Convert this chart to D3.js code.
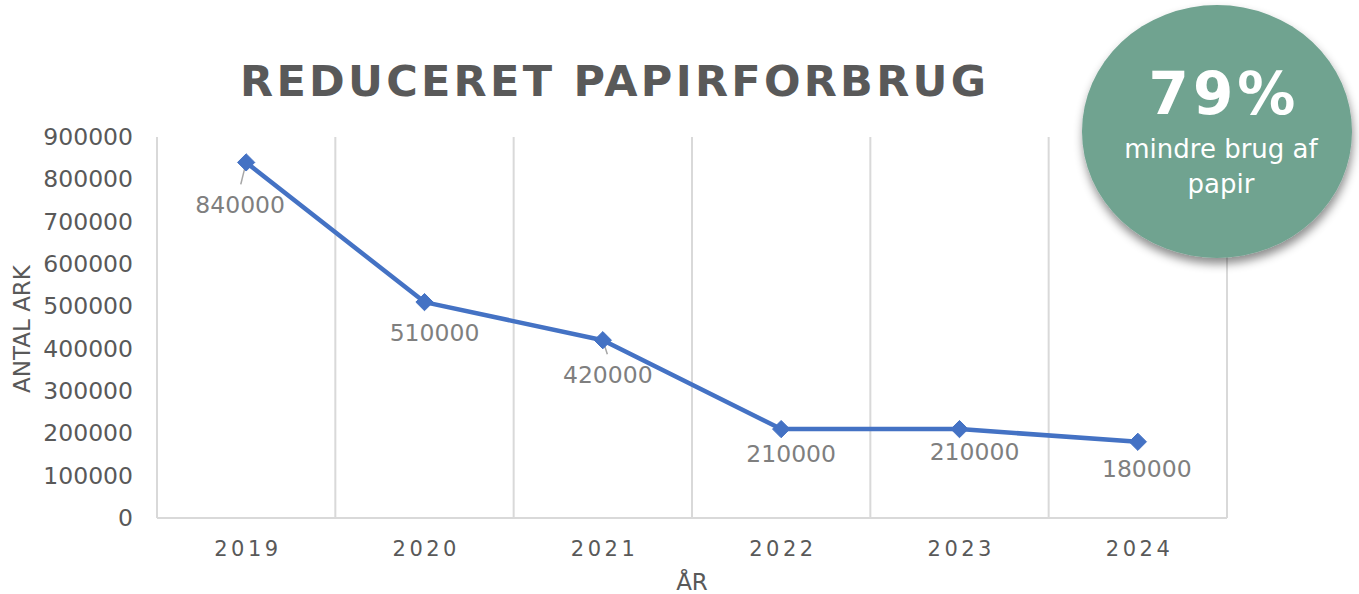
<!DOCTYPE html>
<html>
<head>
<meta charset="utf-8">
<script src="https://cdn.jsdelivr.net/npm/d3@7"></script>
<style>
  html, body { margin: 0; padding: 0; background: #fff; }
  svg { display: block; font-family: "DejaVu Sans", Verdana, sans-serif; }
</style>
</head>
<body>
<svg id="chart" width="1359" height="594"></svg>
<script>
const years = ["2019", "2020", "2021", "2022", "2023", "2024"];
const sheets = [840000, 510000, 420000, 210000, 210000, 180000];
const yTicks = [0, 100000, 200000, 300000, 400000, 500000, 600000, 700000, 800000, 900000];
const titleText = "REDUCERET PAPIRFORBRUG";
const yTitle = "ANTAL ARK";
const xTitle = "ÅR";
const badgeBig = "79%";
const badgeLines = ["mindre brug af", "papir"];
// label placement nudges (dx, dy from marker) and leader line flags
const labelDx = [-6, 10, 5, 10, 15, 9];
const labelDy = [51, 39, 43, 33, 31, 35];
const leader = [true, false, true, false, false, false];

(function () {
const svg = d3.select("#chart");
const pLeft = 157, pRight = 1227, pTop = 137, pBottom = 518;

const x = d3.scaleBand().domain(years).range([pLeft, pRight]).padding(0);
const y = d3.scaleLinear().domain([0, 900000]).range([pBottom, pTop]);

// vertical gridlines at band edges
const edges = years.map(d => x(d)).concat([pRight]);
svg.append("g").selectAll("line").data(edges).join("line")
  .attr("x1", d => d).attr("x2", d => d)
  .attr("y1", pTop).attr("y2", pBottom)
  .attr("stroke", "#d9d9d9").attr("stroke-width", 2);
// bottom axis line
svg.append("line").attr("x1", pLeft).attr("x2", pRight).attr("y1", pBottom).attr("y2", pBottom)
  .attr("stroke", "#d9d9d9").attr("stroke-width", 2);

// y axis labels
const yAxis = d3.axisLeft(y).tickValues(yTicks).tickFormat(d3.format("d")).tickSize(0).tickPadding(24);
const ya = svg.append("g").attr("transform", `translate(${pLeft},0)`).call(yAxis);
ya.select(".domain").remove();
ya.selectAll("text").attr("fill", "#595959").style("font-size", "23.5px")
  .style("font-family", "'DejaVu Sans', Verdana, sans-serif");

// x axis labels
const xAxis = d3.axisBottom(x).tickSize(0).tickPadding(0);
const xa = svg.append("g").attr("transform", `translate(0,${pBottom})`).call(xAxis);
xa.select(".domain").remove();
xa.selectAll("text").attr("fill", "#595959").attr("dy", null).attr("y", 38)
  .style("font-size", "21px").style("letter-spacing", "3.5px")
  .attr("dx", "1.75px")
  .style("font-family", "'DejaVu Sans', Verdana, sans-serif");

// axis titles
svg.append("text").attr("x", 692).attr("y", 590).attr("text-anchor", "middle")
  .attr("fill", "#595959").style("font-size", "23px").text(xTitle);
svg.append("text").attr("transform", "translate(30,329) rotate(-90)").attr("text-anchor", "middle")
  .attr("fill", "#595959").style("font-size", "23px").text(yTitle);

// title
const t = svg.append("text").attr("x", 613).attr("y", 96).attr("text-anchor", "middle")
  .attr("fill", "#595959").style("font-size", "43px").style("font-weight", "bold").text(titleText);
{
  const w = t.node().getComputedTextLength();
  const target = 746;
  const s = (target - w) / (titleText.length - 1);
  t.style("letter-spacing", s + "px").attr("dx", (s / 2) + "px");
}

// line
const line = d3.line().x((d, i) => x(years[i]) + x.bandwidth() / 2).y(d => y(d));
svg.append("path").datum(sheets).attr("d", line)
  .attr("fill", "none").attr("stroke", "#4472c4").attr("stroke-width", 4.5).attr("stroke-linejoin", "round");

// leader lines
svg.append("g").selectAll("line").data(sheets.map((v, i) => ({v, i})).filter(d => leader[d.i])).join("line")
  .attr("x1", d => x(years[d.i]) + x.bandwidth() / 2)
  .attr("y1", d => y(d.v))
  .attr("x2", d => x(years[d.i]) + x.bandwidth() / 2 + labelDx[d.i] * 0.9)
  .attr("y2", d => y(d.v) + labelDy[d.i] - 29)
  .attr("stroke", "#a6a6a6").attr("stroke-width", 1.5);

// markers
svg.append("g").selectAll("path").data(sheets).join("path")
  .attr("d", d3.symbol().type(d3.symbolDiamond2).size(190))
  .attr("transform", (d, i) => `translate(${x(years[i]) + x.bandwidth() / 2},${y(d)})`)
  .attr("fill", "#4472c4").attr("stroke", "#4472c4").attr("stroke-width", 1);

// data labels
svg.append("g").selectAll("text").data(sheets).join("text")
  .attr("x", (d, i) => x(years[i]) + x.bandwidth() / 2 + labelDx[i])
  .attr("y", (d, i) => y(d) + labelDy[i])
  .attr("text-anchor", "middle").attr("fill", "#7f7f7f").style("font-size", "23.5px")
  .text(d => d3.format("d")(d));

// badge
const defs = svg.append("defs");
const f = defs.append("filter").attr("id", "shadow").attr("x", "-20%").attr("y", "-20%").attr("width", "140%").attr("height", "140%");
f.append("feDropShadow").attr("dx", 1).attr("dy", 6).attr("stdDeviation", 5)
  .attr("flood-color", "#000").attr("flood-opacity", 0.45);
svg.append("ellipse").attr("cx", 1217).attr("cy", 131.5).attr("rx", 135).attr("ry", 126.5)
  .attr("fill", "#70a390").attr("filter", "url(#shadow)");
svg.append("text").attr("x", 1222).attr("y", 114).attr("text-anchor", "middle")
  .attr("fill", "#fff").style("font-size", "58px").style("font-weight", "bold")
  .style("letter-spacing", "4px").attr("dx", "2px").text(badgeBig);
svg.append("g").selectAll("text").data(badgeLines).join("text")
  .attr("x", 1221).attr("y", (d, i) => 158 + i * 35).attr("text-anchor", "middle")
  .attr("fill", "#fff").style("font-size", "26px").text(d => d);
})();
</script>
</body>
</html>
